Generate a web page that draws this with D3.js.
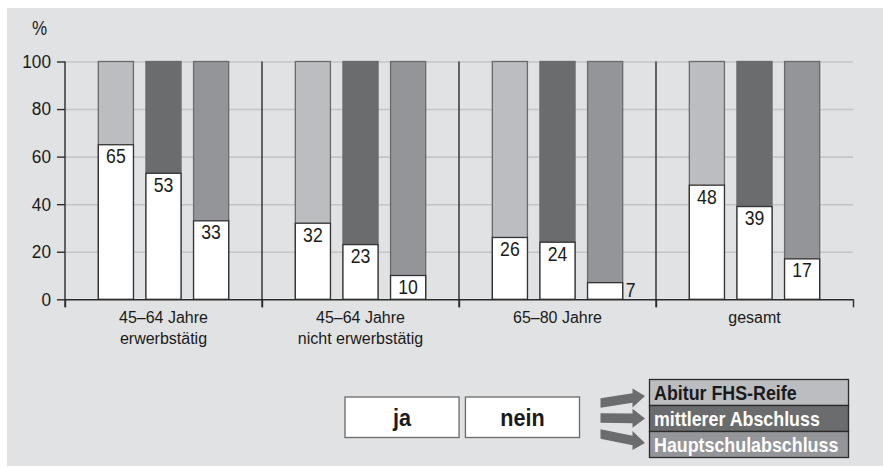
<!DOCTYPE html>
<html>
<head>
<meta charset="utf-8">
<script src="https://cdn.jsdelivr.net/npm/d3@7"></script>
<style>
  body { margin: 0; background: #fff; }
  svg { display: block; font-family: "Liberation Sans", Arial, sans-serif; }
</style>
</head>
<body>
<svg id="chart" width="883" height="467"></svg>
<script>
// data
var categories = ["45–64 Jahre|erwerbstätig", "45–64 Jahre|nicht erwerbstätig", "65–80 Jahre", "gesamt"];
var series = ["Abitur FHS-Reife", "mittlerer Abschluss", "Hauptschulabschluss"];
var jaAbitur = [65, 32, 26, 48];
var jaMittlerer = [53, 23, 24, 39];
var jaHauptschule = [33, 10, 7, 17];
var yTicks = [0, 20, 40, 60, 80, 100];
var answers = ["ja", "nein"];

var colors = ["#bcbdc0", "#6b6c6e", "#939598"];
var legendText = ["#1a1a1a", "#ffffff", "#ffffff"];

// narrow the glyphs a bit, the original uses a condensed face
function squeeze(sel, sx) {
  sel.each(function () {
    var t = d3.select(this);
    var x = +t.attr("x") || 0, yy = +t.attr("y") || 0;
    t.attr("x", null).attr("y", null)
      .attr("transform", "translate(" + x + "," + yy + ") scale(" + sx + ",1)");
  });
}

var svg = d3.select("#chart");

// grey background panel
svg.append("rect")
  .attr("x", 7).attr("y", 8)
  .attr("width", 876).attr("height", 458)
  .attr("fill", "#e1e2e3");

var margin = {left: 65, right: 853, top: 61.5, bottom: 299.3};

var x0 = d3.scaleBand()
  .domain(categories)
  .range([margin.left, margin.right])
  .padding(0);

var x1 = d3.scaleBand()
  .domain(series)
  .range([0, x0.bandwidth()])
  .paddingInner(0.263)
  .paddingOuter(0.7);

var y = d3.scaleLinear()
  .domain([0, 100])
  .range([margin.bottom, margin.top]);

// gridlines
svg.append("g")
  .attr("transform", "translate(" + margin.left + ",0)")
  .call(d3.axisLeft(y).tickValues(yTicks.slice(1)).tickSize(-(margin.right - margin.left)).tickFormat(""))
  .call(function (g) {
    g.select(".domain").remove();
    g.selectAll("line").attr("stroke", "#c3c4c6").attr("stroke-width", 1.6);
  });

// group separators
svg.append("g").selectAll("line")
  .data(categories.slice(1))
  .join("line")
  .attr("x1", function (d) { return x0(d); })
  .attr("x2", function (d) { return x0(d); })
  .attr("y1", y(100))
  .attr("y2", y(0) + 8)
  .attr("stroke", "#2b2b2b")
  .attr("stroke-width", 1.4);

// bars
var rows = categories.map(function (c, i) {
  return [jaAbitur[i], jaMittlerer[i], jaHauptschule[i]].map(function (v, j) {
    return {cat: c, s: series[j], v: v, color: colors[j]};
  });
});

var groups = svg.append("g").selectAll("g")
  .data(rows)
  .join("g")
  .attr("transform", function (d) { return "translate(" + x0(d[0].cat) + ",0)"; });

groups.selectAll("rect.nein")
  .data(function (d) { return d; })
  .join("rect")
  .attr("class", "nein")
  .attr("x", function (d) { return x1(d.s); })
  .attr("y", y(100))
  .attr("width", x1.bandwidth())
  .attr("height", y(0) - y(100))
  .attr("fill", function (d) { return d.color; })
  .attr("stroke", "#6a6a6a")
  .attr("stroke-width", 1.3);

groups.selectAll("rect.ja")
  .data(function (d) { return d; })
  .join("rect")
  .attr("class", "ja")
  .attr("x", function (d) { return x1(d.s); })
  .attr("y", function (d) { return y(d.v); })
  .attr("width", x1.bandwidth())
  .attr("height", function (d) { return y(0) - y(d.v); })
  .attr("fill", "#fff")
  .attr("stroke", "#333")
  .attr("stroke-width", 1.3);

groups.selectAll("text")
  .data(function (d) { return d; })
  .join("text")
  .attr("x", function (d) {
    return (y(0) - y(d.v) < 20) ? x1(d.s) + x1.bandwidth() + 3 : x1(d.s) + x1.bandwidth() / 2;
  })
  .attr("y", function (d) {
    return (y(0) - y(d.v) < 20) ? y(0) - 2.5 : y(d.v) + 18.5;
  })
  .attr("text-anchor", function (d) { return (y(0) - y(d.v) < 20) ? "start" : "middle"; })
  .attr("font-size", 20.5)
  .attr("fill", "#1a1a1a")
  .text(function (d) { return d.v; })
  .call(squeeze, 0.86);

// y axis
svg.append("g")
  .attr("transform", "translate(" + margin.left + ",0)")
  .call(d3.axisLeft(y).tickValues(yTicks).tickSize(8).tickPadding(6).tickSizeOuter(0))
  .call(function (g) {
    g.select(".domain").attr("stroke", "#2b2b2b").attr("stroke-width", 1.4)
      .attr("d", "M0," + y(100) + "V" + (y(0) + 8));
    g.selectAll("line").attr("stroke", "#2b2b2b").attr("stroke-width", 1.4);
    g.selectAll("text").attr("font-size", 18.5).attr("fill", "#1a1a1a")
      .attr("font-family", null).call(squeeze, 0.93);
  });

// x axis with ticks at the group edges
var edges = categories.map(function (c) { return x0(c); }).concat([x0(categories[categories.length - 1]) + x0.bandwidth()]);
svg.append("g")
  .attr("transform", "translate(0," + y(0) + ")")
  .call(d3.axisBottom(d3.scaleLinear().domain([margin.left, margin.right]).range([margin.left, margin.right]))
    .tickValues(edges).tickSize(8).tickSizeOuter(0).tickFormat(""))
  .call(function (g) {
    g.select(".domain").attr("stroke", "#2b2b2b").attr("stroke-width", 1.6);
    g.selectAll("line").attr("stroke", "#2b2b2b").attr("stroke-width", 1.4);
  });

// category labels, one text per line
var catLines = [];
categories.forEach(function (c) {
  c.split("|").forEach(function (line, i) {
    catLines.push({cat: c, line: line, i: i});
  });
});
svg.append("g").selectAll("text")
  .data(catLines)
  .join("text")
  .attr("x", function (d) { return x0(d.cat) + x0.bandwidth() / 2; })
  .attr("y", function (d) { return y(0) + 24 + d.i * 20.5; })
  .attr("text-anchor", "middle")
  .attr("font-size", 16)
  .attr("fill", "#1a1a1a")
  .text(function (d) { return d.line; });

// unit label
svg.append("text")
  .attr("x", 32).attr("y", 34.5)
  .attr("font-size", 20)
  .attr("fill", "#1a1a1a")
  .text("%")
  .call(squeeze, 0.85);

// legend: ja / nein boxes
var boxX = d3.scaleBand().domain(answers).range([345, 579.5]).paddingInner(0.053);
var answerBox = svg.append("g").selectAll("g")
  .data(answers)
  .join("g");
answerBox.append("rect")
  .attr("x", function (d) { return boxX(d); })
  .attr("y", 397)
  .attr("width", boxX.bandwidth())
  .attr("height", 40.5)
  .attr("fill", "#fff")
  .attr("stroke", "#6a6a6a")
  .attr("stroke-width", 1.3);
answerBox.append("text")
  .attr("x", function (d) { return boxX(d) + boxX.bandwidth() / 2; })
  .attr("y", 426)
  .attr("text-anchor", "middle")
  .attr("font-size", 24)
  .attr("font-weight", "bold")
  .attr("fill", "#1a1a1a")
  .text(function (d) { return d; })
  .call(squeeze, 0.9);

// legend: education levels
var legY = d3.scaleBand().domain(series).range([379.5, 457.5]);
var leg = svg.append("g").selectAll("g")
  .data(series)
  .join("g");
leg.append("rect")
  .attr("x", 649.5)
  .attr("y", function (d) { return legY(d); })
  .attr("width", 199)
  .attr("height", legY.bandwidth())
  .attr("fill", function (d, i) { return colors[i]; })
  .attr("stroke", "#2b2b2b")
  .attr("stroke-width", 1.3);
leg.append("text")
  .attr("x", 654)
  .attr("y", function (d) { return legY(d) + 20.5; })
  .attr("font-size", 21)
  .attr("font-weight", "bold")
  .attr("fill", function (d, i) { return legendText[i]; })
  .text(function (d) { return d; })
  .call(squeeze, 0.85);

// arrows from the boxes to the legend rows (tail y, tip offset from row middle)
var arrowTail = [403, 418, 434];
var arrowTipShift = [3.5, 0, -1.5];
leg.append("path")
  .attr("fill", "#6b6c6e")
  .attr("d", function (d, i) {
    var ty = legY(d) + legY.bandwidth() / 2 + arrowTipShift[i];
    var sy = arrowTail[i];
    var xa = 600.5, xh = 632.5, xt = 645;
    var hy = sy + (ty - sy) * (xh - xa) / (xt - xa);
    return "M" + xa + "," + (sy - 4.8) +
      "L" + xh + "," + (hy - 4.8) +
      "L" + xh + "," + (hy - 9.5) +
      "L" + xt + "," + ty +
      "L" + xh + "," + (hy + 9.5) +
      "L" + xh + "," + (hy + 4.8) +
      "L" + xa + "," + (sy + 4.8) + "Z";
  });
</script>
</body>
</html>
